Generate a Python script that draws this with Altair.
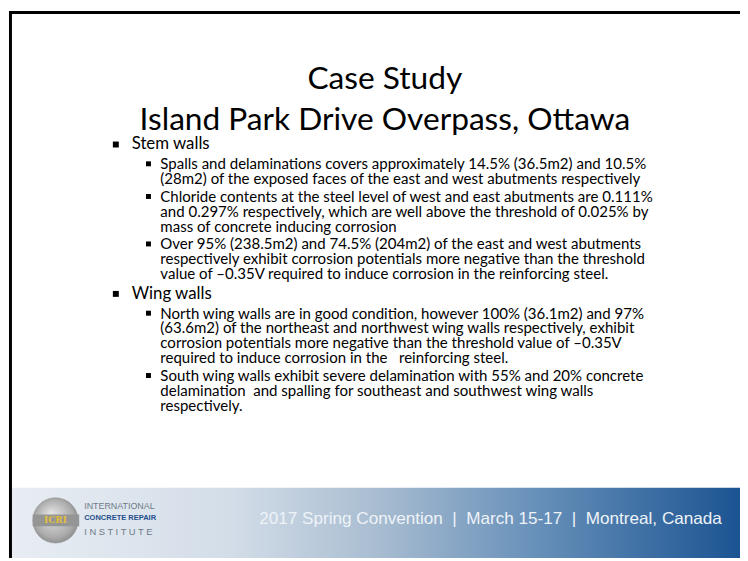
import re
import altair as alt
import pandas as pd

# ---------------- content ----------------
TITLE = ["Case Study", "Island Park Drive Overpass, Ottawa"]
HEADINGS = ["Stem walls", "Wing walls"]
STEM_BULLETS = [
    ["Spalls and delaminations covers approximately 14.5% (36.5m2) and 10.5%",
     "(28m2) of the exposed faces of the east and west abutments respectively"],
    ["Chloride contents at the steel level of west and east abutments are 0.111%",
     "and 0.297% respectively, which are well above the threshold of 0.025% by",
     "mass of concrete inducing corrosion"],
    ["Over 95% (238.5m2) and 74.5% (204m2) of the east and west abutments",
     "respectively exhibit corrosion potentials more negative than the threshold",
     "value of \u20130.35V required to induce corrosion in the reinforcing steel."],
]
WING_BULLETS = [
    ["North wing walls are in good condition, however 100% (36.1m2) and 97%",
     "(63.6m2) of the northeast and northwest wing walls respectively, exhibit",
     "corrosion potentials more negative than the threshold value of \u20130.35V",
     "required to induce corrosion in the   reinforcing steel."],
    ["South wing walls exhibit severe delamination with 55% and 20% concrete",
     "delamination  and spalling for southeast and southwest wing walls",
     "respectively."],
]
LOGO_WORDS = ["INTERNATIONAL", "CONCRETE REPAIR", "I N S T I T U T E"]
LOGO_MARK = "ICRI"
FOOTER = "2017 Spring Convention  |  March 15-17  |  Montreal, Canada"


def keep_spaces(s):
    # runs of spaces are kept visible (SVG collapses plain spaces)
    return re.sub(r" {2,}", lambda m: " " + "\u00a0" * (len(m.group(0)) - 1), s)


# ---------------- layout (page pixels -> chart pixels) ----------------
W, H = 740, 553
OX, OY = 8, 8


def px(v):
    return v - OX


def py(v):
    return v - OY


TITLE_X = 389
TITLE_Y = [77, 118]
HEAD_X, SUB_X = 133, 162
HEAD_BUL_X, SUB_BUL_X = 117, 150
FIRST_HEAD_Y = 143
HEAD_TO_LINE = 20
LINE_STEP = 15
PARA_STEP = 18
SECTION_GAP = 20

head_rows, line_rows, head_bul, sub_bul = [], [], [], []
y = FIRST_HEAD_Y
for h, paras in zip(HEADINGS, [STEM_BULLETS, WING_BULLETS]):
    head_rows.append({"text": h, "x": px(HEAD_X), "y": py(y)})
    head_bul.append({"x": px(HEAD_BUL_X - 3), "x2": px(HEAD_BUL_X + 3),
                     "y": py(y - 3), "y2": py(y + 3)})
    y += HEAD_TO_LINE
    for pi, para in enumerate(paras):
        if pi > 0:
            y += PARA_STEP - LINE_STEP
        sub_bul.append({"x": px(SUB_BUL_X - 2.5), "x2": px(SUB_BUL_X + 2.5),
                        "y": py(y - 3), "y2": py(y + 2)})
        for li, line in enumerate(para):
            line_rows.append({"text": keep_spaces(line), "x": px(SUB_X), "y": py(y)})
            y += LINE_STEP
    y += SECTION_GAP - LINE_STEP

title_df = pd.DataFrame([{"text": t, "x": px(TITLE_X), "y": py(yy)}
                         for t, yy in zip(TITLE, TITLE_Y)])
head_df = pd.DataFrame(head_rows)
line_df = pd.DataFrame(line_rows)
bul_df = pd.DataFrame(head_bul + sub_bul)

X = lambda f="x": alt.X(f"{f}:Q", scale=None, axis=None)
Y = lambda f="y": alt.Y(f"{f}:Q", scale=None, axis=None)


def text_layer(df, **kw):
    return alt.Chart(df).mark_text(baseline="middle", **kw).encode(
        x=X(), y=Y(), text="text:N")


# footer band
footer_df = pd.DataFrame([{"x": px(12), "x2": px(748), "y": py(490), "y2": py(561)}])
footer = alt.Chart(footer_df).mark_rect(
    fill=alt.LinearGradient(
        gradient="linear", x1=0, x2=1, y1=0, y2=0,
        stops=[alt.GradientStop(color="#e8edf3", offset=0),
               alt.GradientStop(color="#d3dde8", offset=0.3),
               alt.GradientStop(color="#a9bdd1", offset=0.5),
               alt.GradientStop(color="#6790b9", offset=0.72),
               alt.GradientStop(color="#1b5492", offset=1)]),
    stroke=None,
).encode(x=X(), x2="x2:Q", y=Y(), y2="y2:Q")

# border lines
border_df = pd.DataFrame([
    {"x": px(9), "x2": px(748), "y": 0, "y2": 3},
    {"x": px(9), "x2": px(12), "y": 0, "y2": H},
])
border = alt.Chart(border_df).mark_rect(color="#000000").encode(
    x=X(), x2="x2:Q", y=Y(), y2="y2:Q")

# logo
globe_df = pd.DataFrame([{"x": px(56), "y": py(523)}])
globe = alt.Chart(globe_df).mark_point(
    shape="circle", size=2100, filled=True, opacity=1,
    fill=alt.RadialGradient(
        gradient="radial", x1=0.4, y1=0.35, r1=0, x2=0.5, y2=0.5, r2=0.6,
        stops=[alt.GradientStop(color="#e6e6e6", offset=0),
               alt.GradientStop(color="#ababab", offset=0.7),
               alt.GradientStop(color="#7b7b7b", offset=1)]),
    stroke="#8c8c8c", strokeWidth=0.5,
).encode(x=X(), y=Y())
band_df = pd.DataFrame([{"x": px(33), "x2": px(80), "y": py(517), "y2": py(529)}])
band = alt.Chart(band_df).mark_rect(color="#959595").encode(
    x=X(), x2="x2:Q", y=Y(), y2="y2:Q")
mark_df = pd.DataFrame([{"text": LOGO_MARK, "x": px(56), "y": py(523)}])
logo_mark = text_layer(mark_df, font="DejaVu Serif", fontSize=9, fontWeight="bold",
                       color="#e2bf3a", align="center")
lw_df = pd.DataFrame([{"text": keep_spaces(t), "x": px(85), "y": py(yy)}
                      for t, yy in zip(LOGO_WORDS, [508, 521, 535])])
logo_w1 = text_layer(lw_df.iloc[[0]], font="Liberation Sans", fontSize=9,
                     color="#6e7b88", align="left")
logo_w2 = text_layer(lw_df.iloc[[1]], font="Liberation Sans", fontSize=7.6,
                     fontWeight="bold", color="#1f4f8c", align="left")
logo_w3 = text_layer(lw_df.iloc[[2]], font="Liberation Sans", fontSize=9.5,
                     color="#6e7b88", align="left")

foot_df = pd.DataFrame([{"text": keep_spaces(FOOTER), "x": px(262), "y": py(522)}])
foot_text = text_layer(foot_df, font="Liberation Sans", fontSize=17.3,
                       color="#eef3f8", align="left")

title = text_layer(title_df, font="Lato", fontSize=32, color="#000000", align="center")
heads = text_layer(head_df, font="Lato", fontSize=17, color="#000000", align="left")
lines = text_layer(line_df, font="Lato", fontSize=15.2, color="#000000", align="left")
bullets = alt.Chart(bul_df).mark_rect(color="#000000").encode(
    x=X(), x2="x2:Q", y=Y(), y2="y2:Q")

chart = alt.layer(
    footer, border, globe, band, logo_mark, logo_w1, logo_w2, logo_w3, foot_text,
    title, heads, lines, bullets,
).properties(
    width=W, height=H, padding=0,
    autosize=alt.AutoSizeParams(type="fit", contains="padding"),
    background="#ffffff",
).configure_view(stroke=None)

chart.save("out.html", embed_options={"renderer": "svg", "actions": False})
